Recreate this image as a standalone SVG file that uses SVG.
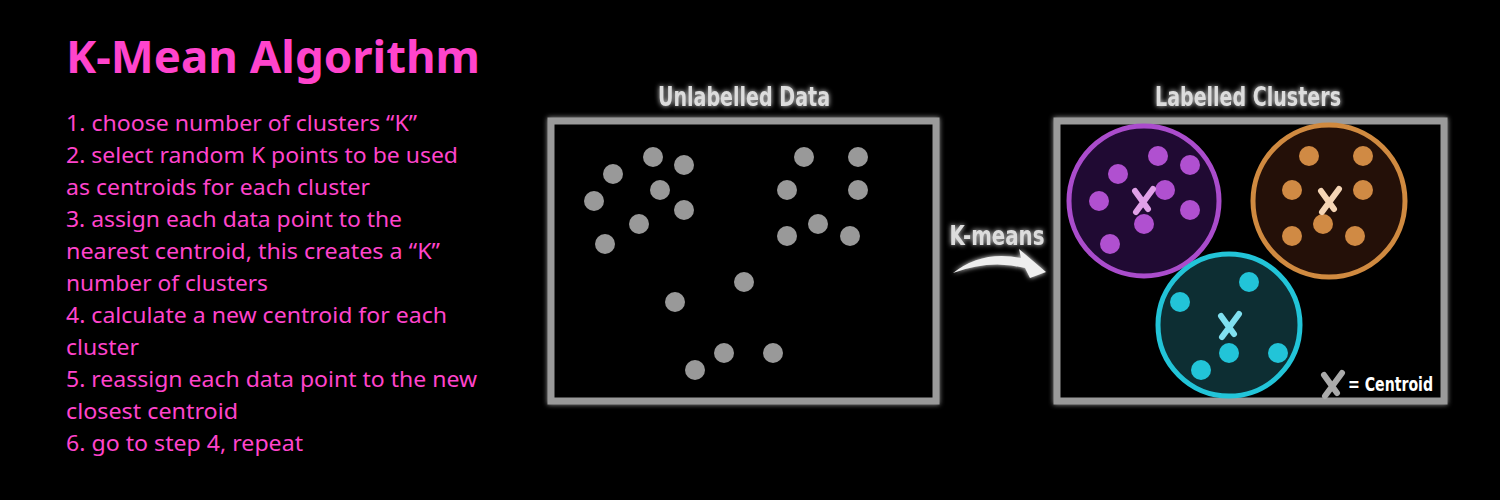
<svg xmlns="http://www.w3.org/2000/svg" width="1500" height="500" viewBox="0 0 1500 500">
<defs>
<filter id="glow" x="-20%" y="-20%" width="140%" height="140%">
<feGaussianBlur in="SourceGraphic" stdDeviation="2.5" result="b"/>
<feMerge><feMergeNode in="b"/><feMergeNode in="SourceGraphic"/></feMerge>
</filter>
<style>
.title{font-family:"Noto Sans","Open Sans",sans-serif;font-weight:bold;font-size:45px;fill:#ff44cc}
.step{font-family:"Noto Sans","Open Sans",sans-serif;font-size:22px;fill:#ff44cc}
.head{font-family:"DejaVu Sans Condensed","DejaVu Sans",sans-serif;font-weight:bold;font-size:26px;fill:#dddddd}
.frame{fill:#000;stroke:#9a9a9a;stroke-width:7}
.gdot{fill:#999999}
.pdot{fill:#b050d0}
.odot{fill:#d08a44}
.cdot{fill:#22c4d8}
.x{stroke-width:6;stroke-linecap:round;fill:none}
.leg{font-family:"DejaVu Sans Condensed","DejaVu Sans",sans-serif;font-weight:bold;font-size:20px;fill:#ffffff}
</style>
</defs>
<rect width="1500" height="500" fill="#000"/>

<g id="algorithm-text">
<text class="title" x="66" y="73" textLength="414" lengthAdjust="spacingAndGlyphs">K-Mean Algorithm</text>
<text class="step" x="66" y="131" textLength="351" lengthAdjust="spacingAndGlyphs">1. choose number of clusters “K”</text>
<text class="step" x="66" y="163" textLength="392" lengthAdjust="spacingAndGlyphs">2. select random K points to be used</text>
<text class="step" x="66" y="195" textLength="304" lengthAdjust="spacingAndGlyphs">as centroids for each cluster</text>
<text class="step" x="66" y="227" textLength="336" lengthAdjust="spacingAndGlyphs">3. assign each data point to the</text>
<text class="step" x="66" y="259" textLength="374" lengthAdjust="spacingAndGlyphs">nearest centroid, this creates a “K”</text>
<text class="step" x="66" y="291" textLength="202" lengthAdjust="spacingAndGlyphs">number of clusters</text>
<text class="step" x="66" y="323" textLength="381" lengthAdjust="spacingAndGlyphs">4. calculate a new centroid for each</text>
<text class="step" x="66" y="355" textLength="73" lengthAdjust="spacingAndGlyphs">cluster</text>
<text class="step" x="66" y="387" textLength="411" lengthAdjust="spacingAndGlyphs">5. reassign each data point to the new</text>
<text class="step" x="66" y="419" textLength="172" lengthAdjust="spacingAndGlyphs">closest centroid</text>
<text class="step" x="66" y="451" textLength="237" lengthAdjust="spacingAndGlyphs">6. go to step 4, repeat</text>
</g>

<g id="unlabelled-data">
<text class="head" x="744" y="106" text-anchor="middle" textLength="172" lengthAdjust="spacingAndGlyphs" filter="url(#glow)">Unlabelled Data</text>
<rect class="frame" x="551" y="121" width="385" height="280" filter="url(#glow)"/>
<circle class="gdot" cx="653" cy="157" r="10"/>
<circle class="gdot" cx="684" cy="165" r="10"/>
<circle class="gdot" cx="613" cy="174" r="10"/>
<circle class="gdot" cx="660" cy="190" r="10"/>
<circle class="gdot" cx="594" cy="201" r="10"/>
<circle class="gdot" cx="684" cy="210" r="10"/>
<circle class="gdot" cx="639" cy="224" r="10"/>
<circle class="gdot" cx="605" cy="244" r="10"/>
<circle class="gdot" cx="804" cy="157" r="10"/>
<circle class="gdot" cx="858" cy="157" r="10"/>
<circle class="gdot" cx="787" cy="190" r="10"/>
<circle class="gdot" cx="858" cy="190" r="10"/>
<circle class="gdot" cx="818" cy="224" r="10"/>
<circle class="gdot" cx="787" cy="236" r="10"/>
<circle class="gdot" cx="850" cy="236" r="10"/>
<circle class="gdot" cx="744" cy="282" r="10"/>
<circle class="gdot" cx="675" cy="302" r="10"/>
<circle class="gdot" cx="724" cy="353" r="10"/>
<circle class="gdot" cx="773" cy="353" r="10"/>
<circle class="gdot" cx="695" cy="370" r="10"/>
</g>

<g id="connectors">
<text class="head" x="997" y="245" text-anchor="middle" textLength="95" lengthAdjust="spacingAndGlyphs" filter="url(#glow)">K-means</text>
<path d="M953,273 Q982,250 1021,258 L1019,249 L1046,272 L1030,278 L1025,268 Q990,259 953,273 Z" fill="#eeeeee" filter="url(#glow)"/>
</g>

<g id="labelled-clusters">
<text class="head" x="1248" y="106" text-anchor="middle" textLength="186" lengthAdjust="spacingAndGlyphs" filter="url(#glow)">Labelled Clusters</text>
<rect class="frame" x="1057" y="121" width="387" height="280" filter="url(#glow)"/>
</g>

<g id="cluster-purple">
<circle cx="1144" cy="201" r="75" fill="#200a33" stroke="#aa4ccc" stroke-width="5"/>
<circle class="pdot" cx="1158" cy="156" r="10"/>
<circle class="pdot" cx="1190" cy="165" r="10"/>
<circle class="pdot" cx="1118" cy="174" r="10"/>
<circle class="pdot" cx="1165" cy="190" r="10"/>
<circle class="pdot" cx="1099" cy="201" r="10"/>
<circle class="pdot" cx="1190" cy="210" r="10"/>
<circle class="pdot" cx="1144" cy="224" r="10"/>
<circle class="pdot" cx="1110" cy="244" r="10"/>
<path class="x" stroke="#e0a0e8" d="M1135,191 L1148,209 M1153,189 L1136,212"/>
</g>

<g id="cluster-orange">
<circle cx="1329" cy="201" r="76" fill="#241008" stroke="#d08a40" stroke-width="5"/>
<circle class="odot" cx="1309" cy="156" r="10"/>
<circle class="odot" cx="1363" cy="156" r="10"/>
<circle class="odot" cx="1292" cy="190" r="10"/>
<circle class="odot" cx="1363" cy="190" r="10"/>
<circle class="odot" cx="1323" cy="224" r="10"/>
<circle class="odot" cx="1292" cy="236" r="10"/>
<circle class="odot" cx="1355" cy="236" r="10"/>
<path class="x" stroke="#f5d5b5" d="M1321,191 L1334,209 M1339,189 L1322,212"/>
</g>

<g id="cluster-cyan">
<circle cx="1229" cy="325" r="71" fill="#0d2e33" stroke="#22c4d8" stroke-width="5"/>
<circle class="cdot" cx="1249" cy="282" r="10"/>
<circle class="cdot" cx="1180" cy="302" r="10"/>
<circle class="cdot" cx="1229" cy="353" r="10"/>
<circle class="cdot" cx="1278" cy="353" r="10"/>
<circle class="cdot" cx="1201" cy="370" r="10"/>
<path class="x" stroke="#80e0f0" d="M1221,316 L1234,334 M1239,314 L1222,337"/>
</g>

<g id="legend">
<path class="x" stroke="#aaaaaa" stroke-width="7" d="M1324,375 L1337,393 M1342,373 L1325,396"/>
<text class="leg" x="1348" y="391" textLength="85" lengthAdjust="spacingAndGlyphs">= Centroid</text>
</g>
</svg>
